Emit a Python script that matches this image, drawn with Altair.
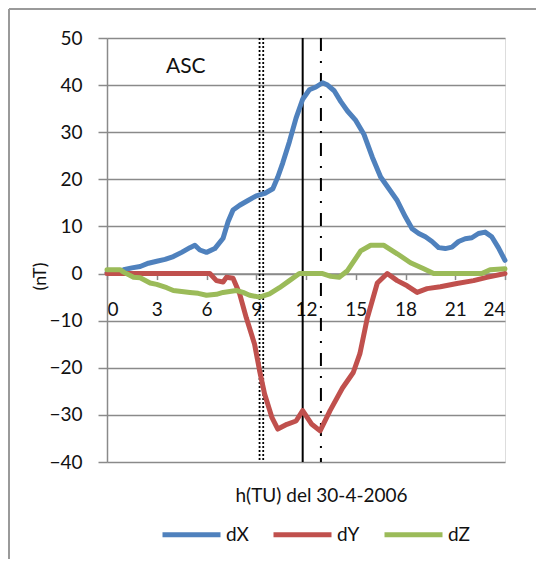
import altair as alt
import pandas as pd

# ---- data ----
dx_h = [0, 0.5, 1.0, 1.5, 2.0, 2.5, 3.0, 3.5, 4.0, 4.5, 5.0, 5.3, 5.6, 6.0, 6.5, 7.0, 7.3, 7.6,
        8.0, 8.5, 9.0, 9.5, 10.0, 10.3, 10.6, 11.0, 11.4, 11.8, 12.2, 12.6, 13.0, 13.3, 13.7,
        14.1, 14.5, 15.0, 15.5, 16.0, 16.5, 17.0, 17.5, 18.0, 18.4, 18.8, 19.2, 19.6, 20.0,
        20.4, 20.8, 21.2, 21.6, 22.0, 22.4, 22.8, 23.2, 23.6, 24.0]
dx_v = [0.2, 0.3, 0.8, 1.2, 1.5, 2.2, 2.6, 3.0, 3.6, 4.5, 5.5, 6.0, 5.0, 4.5, 5.3, 7.5, 11.0, 13.5,
        14.5, 15.5, 16.5, 17.0, 18.0, 20.5, 23.5, 28.0, 33.0, 37.0, 39.0, 39.6, 40.5, 40.0, 38.8,
        36.5, 34.5, 32.5, 29.5, 24.7, 20.5, 18.0, 15.5, 12.0, 9.5, 8.5, 7.8, 6.8, 5.5,
        5.3, 5.6, 6.8, 7.4, 7.6, 8.5, 8.8, 7.8, 5.5, 2.8]

dy_h = [0, 3.0, 6.2, 6.6, 7.0, 7.2, 7.6, 8.0, 8.4, 8.9, 9.2, 9.5, 9.95, 10.3, 10.85, 11.4, 11.8,
        12.35, 12.85, 13.45, 14.2, 14.85, 15.25, 15.7, 16.3, 16.9, 17.5, 18.1, 18.7, 19.3, 20.1,
        21.1, 22.1, 22.9, 24.0]
dy_v = [0, 0, 0, -1.5, -1.8, -0.8, -1.0, -4.3, -9.4, -15.0, -20.6, -25.5, -30.6, -33.0, -32.0,
        -31.3, -29.1, -32.0, -33.4, -29.1, -24.3, -21.0, -17.0, -9.4, -2.0, 0.0, -1.5, -2.6, -4.0,
        -3.2, -2.8, -2.1, -1.5, -0.8, 0.0]

dz_h = [0, 0.8, 1.0, 1.6, 2.0, 2.6, 3.0, 3.6, 4.0, 5.0, 5.5, 6.0, 6.6, 7.0, 7.8, 8.2, 8.6, 9.2,
        9.8, 10.4, 11.0, 11.6, 13.0, 13.5, 14.0, 14.5, 15.3, 15.9, 16.7, 17.5, 18.3, 19.1, 19.7,
        22.6, 23.1, 24.0]
dz_v = [0.8, 0.8, 0.3, -0.8, -0.9, -2.0, -2.3, -3.0, -3.6, -4.0, -4.2, -4.6, -4.4, -4.0, -3.6,
        -4.0, -4.6, -5.0, -4.3, -3.0, -1.5, 0.0, 0.0, -0.6, -0.8, 0.6, 4.8, 6.0, 6.0, 4.2, 2.3,
        1.0, 0.0, 0.0, 0.8, 1.0]

series_names = ["dX", "dY", "dZ"]
series_colors = ["#4F81BD", "#C0504D", "#9BBB59"]

dotted_marks = [9.2, 9.42]
solid_marks = [11.8]
dashdot_marks = [12.9]

x_ticks = [0, 3, 6, 9, 12, 15, 18, 21, 24]
y_ticks = [-40, -30, -20, -10, 0, 10, 20, 30, 40, 50]

x_title = "h(TU) del 30-4-2006"
y_title = "(nT)"
annotation = "ASC"

# ---- build tables ----
rows = []
for name, hs, vs in zip(series_names, [dx_h, dy_h, dz_h], [dx_v, dy_v, dz_v]):
    for h, v in zip(hs, vs):
        rows.append({"h": h, "v": v, "serie": name})
df = pd.DataFrame(rows)

W, H = 398, 424
FONT = "Lato"
GRID = "#8a8a8a"

xscale = alt.Scale(domain=[0, 24], nice=False, zero=False)
yscale = alt.Scale(domain=[-40, 50], nice=False, zero=False)

lines = alt.Chart(df).mark_line(strokeWidth=5, strokeJoin="round", strokeCap="round").encode(
    x=alt.X("h:Q", scale=xscale,
            axis=alt.Axis(values=x_ticks, title=x_title, grid=False, offset=-H * 40 / 90,
                          domainColor=GRID, domainWidth=1.5, tickColor=GRID, tickWidth=1.5,
                          tickSize=6, labelPadding=21, labelFontSize=19, labelFont=FONT,
                          labelColor="#111", titleFont=FONT, titleFontSize=19,
                          titleFontWeight="normal", titleColor="#111",
                          titleX=214, titleY=222, titleBaseline="middle", titleAnchor="middle")),
    y=alt.Y("v:Q", scale=yscale,
            axis=alt.Axis(values=y_ticks, title=y_title, grid=True, gridColor=GRID, gridWidth=1.5,
                          domainColor=GRID, domainWidth=1.5, tickColor=GRID, tickWidth=1.5,
                          tickSize=9, labelPadding=16, labelFontSize=19, labelFont=FONT,
                          labelColor="#111", titleFont=FONT, titleFontSize=18,
                          titleFontWeight="normal", titleColor="#111",
                          titleX=-67, titleY=238, titleBaseline="middle", titleAngle=-90)),
    color=alt.Color("serie:N", scale=alt.Scale(domain=series_names, range=series_colors),
                    legend=alt.Legend(title=None, orient="none", direction="horizontal",
                                      legendX=53, legendY=465, symbolType="stroke",
                                      symbolSize=3364, symbolStrokeWidth=5,
                                      labelFontSize=19, labelFont=FONT, labelColor="#111",
                                      labelOffset=3, columnPadding=14, padding=0)),
    order="h:Q",
)

def vrules(values, dash, width):
    d = pd.DataFrame({"h": values, "top": [50] * len(values), "bot": [-40] * len(values)})
    mk = dict(color="black", strokeWidth=width)
    if dash:
        mk["strokeDash"] = dash
    return alt.Chart(d).mark_rule(**mk).encode(
        x=alt.X("h:Q", scale=xscale), y=alt.Y("top:Q", scale=yscale), y2="bot:Q")

dotted = vrules(dotted_marks, [2, 2], 1.8)
solid = vrules(solid_marks, None, 2)
dashdot = vrules(dashdot_marks, [13, 10, 2, 10], 2)

asc = alt.Chart(pd.DataFrame({"h": [4.75], "v": [43.8], "t": [annotation]})).mark_text(
    fontSize=21, font=FONT, color="#111").encode(
    x=alt.X("h:Q", scale=xscale), y=alt.Y("v:Q", scale=yscale), text="t:N")

# outer chart frame (decoration)
frame_left = alt.Chart(pd.DataFrame({"a": [0]})).mark_rule(color="#9a9a9a", strokeWidth=2).encode(
    x=alt.value(-98), y=alt.value(-29), y2=alt.value(H + 120))
frame_top = alt.Chart(pd.DataFrame({"a": [0]})).mark_rule(color="#9a9a9a", strokeWidth=2).encode(
    x=alt.value(-98), x2=alt.value(W + 40), y=alt.value(-29))

chart = alt.layer(frame_left, frame_top, dotted, solid, dashdot, lines, asc).properties(
    width=W, height=H,
    autosize=alt.AutoSizeParams(type="none"),
    padding={"left": 99, "top": 30, "right": 31, "bottom": 97},
).configure_view(stroke=None).configure(background="white")

chart.save("out.html", embed_options={"renderer": "svg", "actions": False})
